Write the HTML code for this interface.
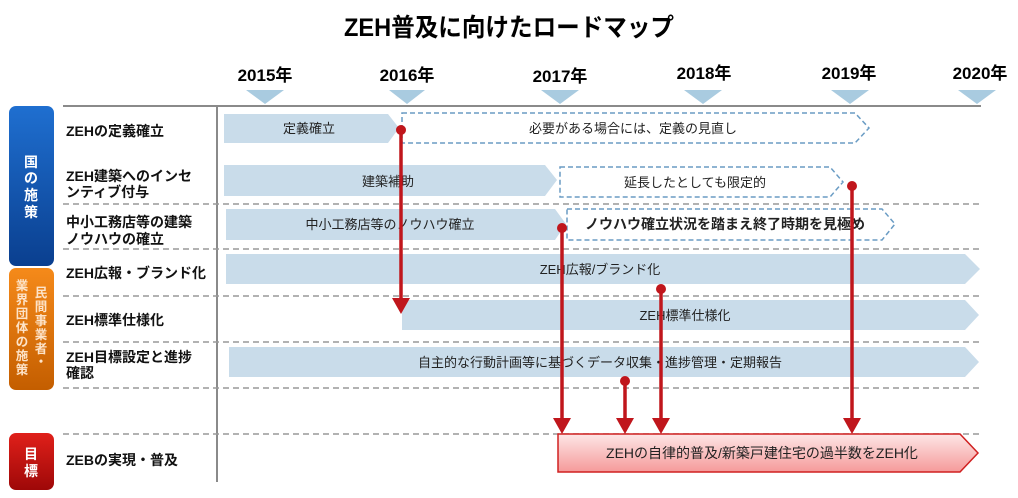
<!DOCTYPE html>
<html><head><meta charset="utf-8"><style>
html,body{margin:0;padding:0;background:#fff;}
svg{display:block;font-family:"Liberation Sans","Noto Sans CJK JP",sans-serif;}
</style></head><body>
<svg width="1018" height="498" viewBox="0 0 1018 498" xmlns="http://www.w3.org/2000/svg">
<defs>
<linearGradient id="bl" x1="0" y1="0" x2="0" y2="1"><stop offset="0" stop-color="#1f6fd0"/><stop offset="1" stop-color="#0a3f8f"/></linearGradient>
<linearGradient id="or" x1="0" y1="0" x2="0" y2="1"><stop offset="0" stop-color="#f58a1a"/><stop offset="1" stop-color="#c45e00"/></linearGradient>
<linearGradient id="rd" x1="0" y1="0" x2="0" y2="1"><stop offset="0" stop-color="#e0201a"/><stop offset="1" stop-color="#9e0808"/></linearGradient>
<linearGradient id="pk" x1="0" y1="0" x2="0" y2="1"><stop offset="0" stop-color="#fde6e6"/><stop offset="1" stop-color="#f59a9a"/></linearGradient>
</defs>
<text x="509" y="36" text-anchor="middle" font-size="25" font-weight="bold" textLength="330" lengthAdjust="spacingAndGlyphs">ZEH普及に向けたロードマップ</text>
<g font-size="17" font-weight="bold" text-anchor="middle">
<text x="265" y="81">2015年</text><text x="407" y="81">2016年</text><text x="560" y="82">2017年</text><text x="704" y="79">2018年</text><text x="849" y="79">2019年</text><text x="980" y="79">2020年</text>
</g>
<g fill="#a9cbe0">
<polygon points="246,90 284,90 265,104"/><polygon points="389,90 425,90 407,104"/><polygon points="541,90 579,90 560,104"/><polygon points="684,90 722,90 703,104"/><polygon points="831,90 869,90 850,104"/><polygon points="958,90 996,90 977,104"/>
</g>
<line x1="63" y1="106" x2="981" y2="106" stroke="#8a8a8a" stroke-width="2"/>
<line x1="217" y1="106" x2="217" y2="482" stroke="#8a8a8a" stroke-width="2"/>
<g stroke="#999" stroke-width="1.5" stroke-dasharray="6,4">
<line x1="63" y1="204" x2="981" y2="204"/><line x1="63" y1="249" x2="981" y2="249"/><line x1="63" y1="296" x2="981" y2="296"/><line x1="63" y1="342" x2="981" y2="342"/><line x1="63" y1="388" x2="981" y2="388"/><line x1="63" y1="434" x2="981" y2="434"/>
</g>
<rect x="9" y="106" width="45" height="160" rx="7" fill="url(#bl)"/>
<rect x="9" y="268" width="45" height="122" rx="7" fill="url(#or)"/>
<rect x="9" y="433" width="45" height="57" rx="7" fill="url(#rd)"/>
<g fill="#fff" font-size="14" font-weight="bold" text-anchor="middle">
<text x="31" y="167">国</text><text x="31" y="183">の</text><text x="31" y="200">施</text><text x="31" y="217">策</text>
<text x="31" y="459">目</text><text x="31" y="476">標</text>
</g>
<g fill="#fde3c8" font-size="12.5" font-weight="bold" text-anchor="middle">
<text x="41" y="297">民</text><text x="41" y="311">間</text><text x="41" y="325">事</text><text x="41" y="339">業</text><text x="41" y="353">者</text><text x="41" y="366">・</text>
<text x="22" y="290">業</text><text x="22" y="304">界</text><text x="22" y="318">団</text><text x="22" y="332">体</text><text x="22" y="346">の</text><text x="22" y="360">施</text><text x="22" y="374">策</text>
</g>
<g font-size="14" font-weight="bold" fill="#111">
<text x="66" y="136">ZEHの定義確立</text>
<text x="66" y="181">ZEH建築へのインセ</text><text x="66" y="197">ンティブ付与</text>
<text x="66" y="227">中小工務店等の建築</text><text x="66" y="244">ノウハウの確立</text>
<text x="66" y="278">ZEH広報・ブランド化</text>
<text x="66" y="325">ZEH標準仕様化</text>
<text x="66" y="362">ZEH目標設定と進捗</text><text x="66" y="378">確認</text>
<text x="66" y="465">ZEBの実現・普及</text>
</g>
<g fill="#c9dcea">
<polygon points="224,114 388,114 399,128 388,143 224,143"/>
<polygon points="224,165 545,165 557,180 545,196 224,196"/>
<polygon points="226,209 555,209 566,224 555,240 226,240"/>
<polygon points="226,254 965,254 980,269 965,284 226,284"/>
<polygon points="402,300 965,300 979,315 965,330 402,330"/>
<polygon points="229,347 965,347 979,362 965,377 229,377"/>
</g>
<g fill="none" stroke="#6a9cc4" stroke-width="1.5" stroke-dasharray="5,3">
<polygon points="402,113 855,113 869,128 855,143 402,143"/>
<polygon points="560,167 830,167 843,182 830,197 560,197"/>
<polygon points="567,209 882,209 895,224 882,240 567,240"/>
</g>
<polygon points="558,434 960,434 978,453 960,472 558,472" fill="url(#pk)" stroke="#d02020" stroke-width="1.5"/>
<g font-size="13" fill="#222" text-anchor="middle">
<text x="309" y="133">定義確立</text>
<text x="633" y="133">必要がある場合には、定義の見直し</text>
<text x="388" y="186">建築補助</text>
<text x="695" y="187">延長したとしても限定的</text>
<text x="390" y="229">中小工務店等のノウハウ確立</text>
<text x="725" y="229" font-weight="bold" font-size="14">ノウハウ確立状況を踏まえ終了時期を見極め</text>
<text x="600" y="274">ZEH広報/ブランド化</text>
<text x="685" y="320">ZEH標準仕様化</text>
<text x="600" y="367">自主的な行動計画等に基づくデータ収集・進捗管理・定期報告</text>
<text x="762" y="458" font-size="14">ZEHの自律的普及/新築戸建住宅の過半数をZEH化</text>
</g>
<g stroke="#c0161c" stroke-width="3.5" fill="none">
<line x1="401" y1="130" x2="401" y2="308"/>
<line x1="562" y1="228" x2="562" y2="428"/>
<line x1="661" y1="290" x2="661" y2="428"/>
<line x1="625" y1="382" x2="625" y2="428"/>
<line x1="852" y1="186" x2="852" y2="428"/>
</g>
<g fill="#c0161c">
<circle cx="401" cy="130" r="5"/><circle cx="562" cy="228" r="5"/><circle cx="661" cy="289" r="5"/><circle cx="625" cy="381" r="5"/><circle cx="852" cy="186" r="5"/>
<polygon points="392,298 410,298 401,314"/>
<polygon points="553,418 571,418 562,434"/>
<polygon points="652,418 670,418 661,434"/>
<polygon points="616,418 634,418 625,434"/>
<polygon points="843,418 861,418 852,434"/>
</g>
</svg>
</body></html>
